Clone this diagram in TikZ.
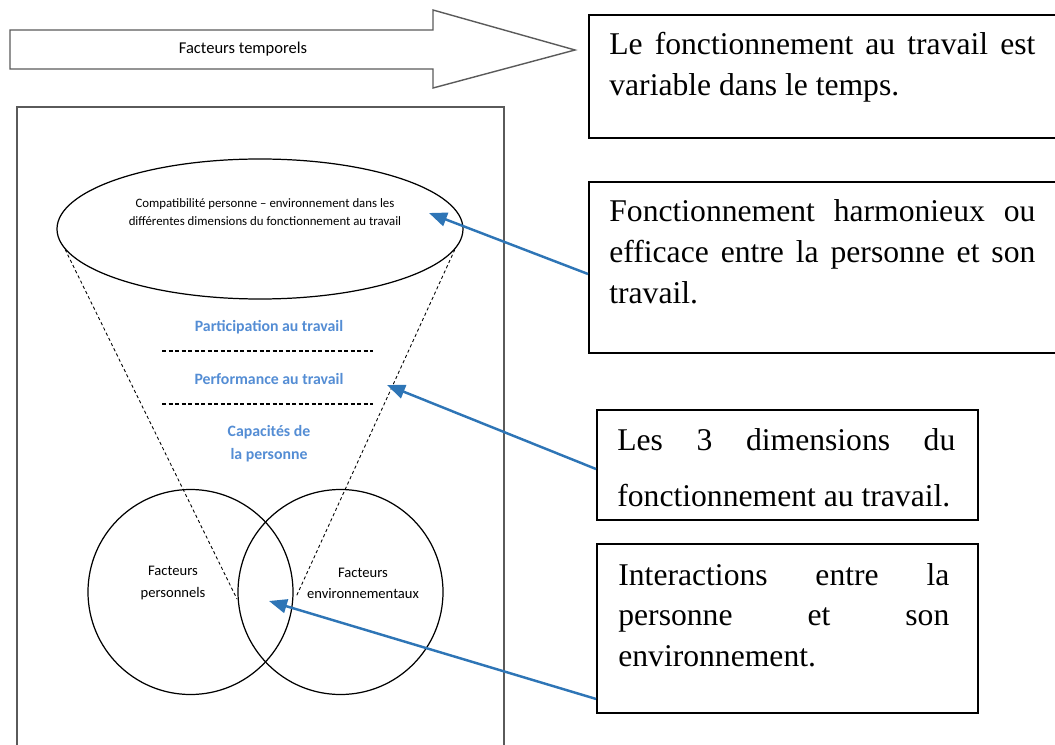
\documentclass[tikz,border=0pt]{standalone}
\usepackage{fontspec}
\setmainfont{Liberation Serif}
\newfontfamily\carlito{Carlito}
\usetikzlibrary{shapes.geometric,arrows.meta,positioning,calc}
\definecolor{arrowblue}{RGB}{46,117,182}
\definecolor{dimblue}{RGB}{84,141,212}
\definecolor{framegray}{RGB}{90,90,90}
\hyphenpenalty=10000
\exhyphenpenalty=10000

\begin{document}
\begin{tikzpicture}[
    infobox/.style={rectangle, draw, line width=1.1pt, anchor=north west, inner sep=0pt},
    boxtext/.style={anchor=base west, inner sep=0pt, align=justify, font=\fontsize{18}{23.2}\selectfont},
    smalltxt/.style={font=\carlito\fontsize{8.3}{12}\selectfont, align=center, inner sep=0pt},
    dimtxt/.style={font=\carlito\bfseries\fontsize{9}{13}\selectfont, text=dimblue, align=center, inner sep=0pt},
    venn/.style={circle, draw, line width=0.7pt, minimum size=4.1cm, inner sep=0pt},
    pointer/.style={-{Triangle[length=3.6mm,width=2.8mm]}, arrowblue, line width=1.4pt},
    cone/.style={line width=0.5pt, dash pattern=on 1.8pt off 1.5pt},
    layersep/.style={line width=0.6pt, dash pattern=on 2.3pt off 1.4pt}
]
    \useasboundingbox (0,0) rectangle (21.1,-14.9);

    % Time arrow
    \draw[framegray, line width=0.8pt] (0.2,-0.6) -- (8.66,-0.6) -- (8.66,-0.2) -- (11.5,-1.0)
        -- (8.66,-1.76) -- (8.66,-1.38) -- (0.2,-1.38) -- cycle;
    \node[font=\carlito\fontsize{9.4}{11}\selectfont] (temps) at (4.86,-0.99) {Facteurs temporels};

    % Frame of the model
    \draw[framegray, line width=0.9pt] (0.34,-2.14) rectangle (10.08,-15.5);

    % Compatibility ellipse
    \node[ellipse, draw, line width=0.7pt, minimum width=8.12cm, minimum height=2.8cm, inner sep=0pt] (compat) at (5.2,-4.58) {};
    \node[font=\carlito\fontsize{7.3}{10.2}\selectfont, align=center] (compattxt) at (5.3,-4.24)
        {Compatibilité personne – environnement dans les\\différentes dimensions du fonctionnement au travail};

    % Cone
    \coordinate (coneL) at (4.74,-11.98);
    \coordinate (coneR) at (5.92,-11.94);
    \draw[cone] (compat.186.7) -- (coneL);
    \draw[cone] (compat.-6.7) -- (coneR);

    % Three dimensions
    \node[dimtxt] (partic) at (5.38,-6.54) {Participation au travail};
    \node[dimtxt] (perf) at (5.38,-7.58) {Performance au travail};
    \node[dimtxt] (capac) at (5.38,-8.87) {Capacités de\\la personne};
    \draw[layersep] (3.24,-7.02) -- (7.46,-7.02);
    \draw[layersep] (3.24,-8.08) -- (7.46,-8.08);

    % Person and environment
    \node[venn] (perso) at (3.81,-11.84) {};
    \node[venn] (env) at (6.81,-11.84) {};
    \node[smalltxt] (persotxt) at (3.46,-11.66) {Facteurs\\personnels};
    \node[smalltxt] (envtxt) at (7.26,-11.66) {Facteurs\\environnementaux};

    % Comment boxes
    \node[infobox, minimum width=9.44cm, minimum height=2.46cm] (b1) at (11.76,-0.28) {};
    \node[infobox, minimum width=9.44cm, minimum height=3.42cm] (b2) at (11.76,-3.62) {};
    \node[infobox, minimum width=7.62cm, minimum height=2.2cm] (b3) at (11.92,-8.18) {};
    \node[infobox, minimum width=7.62cm, minimum height=3.38cm] (b4) at (11.92,-10.86) {};

    \node[boxtext, text width=8.52cm] (t1) at ($(b1.north west)+(0.42,-0.82)$)
        {Le fonctionnement au travail est\linebreak variable dans le temps.};
    \node[boxtext, text width=8.52cm] (t2) at ($(b2.north west)+(0.42,-0.82)$)
        {Fonctionnement harmonieux ou\linebreak efficace entre la personne et son\linebreak travail.};
    \node[boxtext, text width=6.76cm, font=\fontsize{18}{32.3}\selectfont] (t3) at ($(b3.north west)+(0.42,-0.82)$)
        {Les 3 dimensions du\linebreak fonctionnement au travail.};
    \node[boxtext, text width=6.62cm] (t4) at ($(b4.north west)+(0.44,-0.84)$)
        {Interactions entre la\linebreak personne et son\linebreak environnement.};

    % Pointers
    \coordinate (tipA) at (8.58,-4.26);
    \coordinate (tipB) at (7.74,-7.70);
    \coordinate (tipC) at (5.38,-12.02);
    \draw[pointer] ($(b2.north west)+(0,-1.86)$) -- (tipA);
    \draw[pointer] ($(b3.north west)+(0,-1.2)$) -- (tipB);
    \draw[pointer] ($(b4.south west)+(0,0.3)$) -- (tipC);
\end{tikzpicture}
\end{document}
